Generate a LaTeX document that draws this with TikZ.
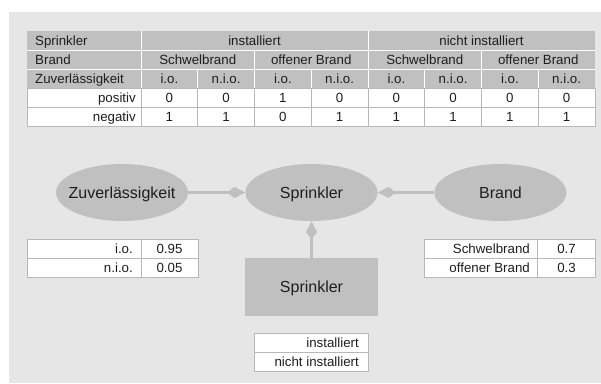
\documentclass[tikz,border=0pt]{standalone}
\usepackage{fontspec}
\setmainfont{Liberation Sans}
\usetikzlibrary{shapes.geometric,arrows.meta}
\definecolor{bg}{HTML}{E6E6E6}
\definecolor{hd}{HTML}{C0C0C0}
\definecolor{bd}{HTML}{B8B8B8}
\definecolor{tx}{HTML}{1E1E1E}
\begin{document}
\begin{tikzpicture}[x=1pt,y=-1pt,
  tt/.style={font=\fontsize{13.3}{15}\selectfont, text=tx, inner sep=0pt},
  big/.style={font=\fontsize{16}{18}\selectfont, text=tx, inner sep=0pt, anchor=base},
  ell/.style={ellipse, fill=hd, minimum width=132pt, minimum height=57pt, inner sep=0pt},
  boxnode/.style={rectangle, fill=hd, minimum width=133pt, minimum height=58pt, inner sep=0pt},
  arr/.style={draw=hd, line width=2.5pt, -{Kite[length=18pt,width=11pt,inset=7pt]}},
  sep/.style={draw=white, line width=1pt},
  grid/.style={draw=bd, line width=0.9pt}]
\useasboundingbox (0,0) rectangle (601,383);
\fill[bg] (9,12) rectangle (601,383);

% ---------- main table ----------
\def\cw{56.75}
\fill[hd] (27,31) rectangle (595,88);
\draw[sep] (27,50) -- (595,50);
\draw[sep] (27,69) -- (595,69);
\draw[sep] (141,31) -- (141,88);
\draw[sep] (368,31) -- (368,88);
\draw[sep] (254.5,50) -- (254.5,88);
\draw[sep] (481.5,50) -- (481.5,88);
\foreach \k in {1,3,5,7} \draw[sep] ({141+\k*\cw},69) -- ({141+\k*\cw},88);
\fill[white] (27,88) rectangle (595,126);
\draw[grid] (27,88) rectangle (595,126);
\draw[grid] (27,107) -- (595,107);
\foreach \k in {0,...,7} \draw[grid] ({141+\k*\cw},88) -- ({141+\k*\cw},126);

\node[tt, anchor=base west] (h1) at (35,45.3) {Sprinkler};
\node[tt, anchor=base] (h2) at (254.5,45.3) {installiert};
\node[tt, anchor=base] (h3) at (481.5,45.3) {nicht installiert};
\node[tt, anchor=base west] (h4) at (35,64.3) {Brand};
\foreach \k/\t in {0/Schwelbrand,1/offener Brand,2/Schwelbrand,3/offener Brand}
  \node[tt, anchor=base] (b\k) at ({141+(2*\k+1)*\cw},64.3) {\t};
\node[tt, anchor=base west] (h5) at (35,83.3) {Zuverlässigkeit};
\foreach \k/\t in {0/i.o.,1/n.i.o.,2/i.o.,3/n.i.o.,4/i.o.,5/n.i.o.,6/i.o.,7/n.i.o.}
  \node[tt, anchor=base] (z\k) at ({141+(\k+0.5)*\cw},83.3) {\t};
\node[tt, anchor=base east] (h6) at (136,102.3) {positiv};
\foreach \k/\t in {0/0,1/0,2/1,3/0,4/0,5/0,6/0,7/0}
  \node[tt, anchor=base] (p\k) at ({141+(\k+0.5)*\cw},102.3) {\t};
\node[tt, anchor=base east] (h7) at (136,121.3) {negativ};
\foreach \k/\t in {0/1,1/1,2/0,3/1,4/1,5/1,6/1,7/1}
  \node[tt, anchor=base] (n\k) at ({141+(\k+0.5)*\cw},121.3) {\t};

% ---------- network ----------
\node[ell] (zu) at (122,192.5) {};
\node[big] (zut) at (122,198.2) {Zuverlässigkeit};
\node[ell] (sp) at (311.5,192.5) {};
\node[big] (spt) at (311.5,198.2) {Sprinkler};
\node[ell] (br) at (500.5,192.5) {};
\node[big] (brt) at (500.5,198.2) {Brand};
\node[boxnode] (sb) at (311.5,287) {};
\node[big] (sbt) at (311.5,292.7) {Sprinkler};

\draw[arr] (zu) -- (sp);
\draw[arr] (br) -- (sp);
\draw[arr] (sb) -- (sp);

% ---------- CPT Zuverlaessigkeit ----------
\fill[white] (27,239) rectangle (198,277);
\draw[grid] (27,239) rectangle (198,277);
\draw[grid] (27,258) -- (198,258);
\draw[grid] (141,239) -- (141,277);
\node[tt, anchor=base east] (c1) at (133,253.3) {i.o.};
\node[tt, anchor=base] (c2) at (169.5,253.3) {0.95};
\node[tt, anchor=base east] (c3) at (133,272.3) {n.i.o.};
\node[tt, anchor=base] (c4) at (169.5,272.3) {0.05};

% ---------- CPT Brand ----------
\fill[white] (424,239) rectangle (595,277);
\draw[grid] (424,239) rectangle (595,277);
\draw[grid] (424,258) -- (595,258);
\draw[grid] (537,239) -- (537,277);
\node[tt, anchor=base east] (d1) at (530,253.3) {Schwelbrand};
\node[tt, anchor=base] (d2) at (566.5,253.3) {0.7};
\node[tt, anchor=base east] (d3) at (530,272.3) {offener Brand};
\node[tt, anchor=base] (d4) at (566.5,272.3) {0.3};

% ---------- CPT Sprinkler ----------
\fill[white] (254,333) rectangle (368,371);
\draw[grid] (254,333) rectangle (368,371);
\draw[grid] (254,352) -- (368,352);
\node[tt, anchor=base east] (e1) at (359,347.3) {installiert};
\node[tt, anchor=base east] (e2) at (359,366.3) {nicht installiert};
\end{tikzpicture}
\end{document}
